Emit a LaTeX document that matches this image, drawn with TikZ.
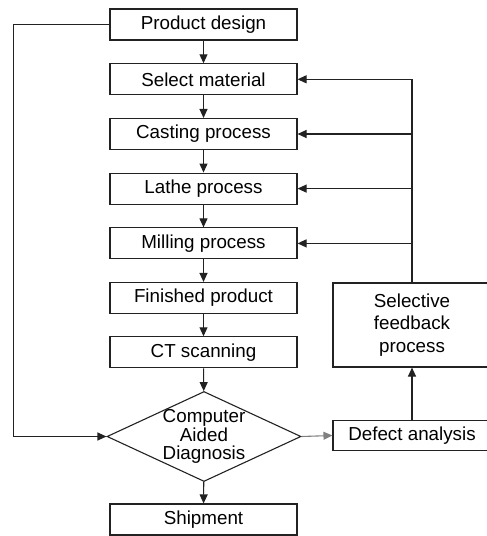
\documentclass[tikz,border=0pt]{standalone}
\usepackage{fontspec}
\setmainfont{Liberation Sans}
\usetikzlibrary{shapes.geometric,arrows.meta}
\definecolor{ln}{HTML}{222222}
\begin{document}
\begin{tikzpicture}[x=1pt,y=-1pt,
  every node/.style={font=\fontsize{18.8}{22.5}\selectfont, text=black},
  box/.style={draw=ln, line width=1.1pt, minimum width=187pt, minimum height=31pt, inner sep=0pt},
  sidebox/.style={draw=ln, line width=1.1pt, minimum width=158pt, inner sep=0pt, align=center},
  arr/.style={draw=ln, line width=1.1pt, -{Triangle[length=9pt,width=8pt]}},
  ln/.style={draw=ln, line width=1.1pt}]
\clip (0,0) rectangle (487,536);
\node[box] (pd) at (203.5,24.5) {Product design};
\node[box] (sm) at (203.5,79.3) {Select material};
\node[box] (cp) at (203.5,134) {Casting process};
\node[box] (lp) at (203.5,188.6) {Lathe process};
\node[box] (mp) at (203.5,243.4) {Milling process};
\node[box] (fp) at (203.5,298) {Finished product};
\node[box] (ct) at (203.5,352.3) {CT scanning};
\node[draw=ln, line width=1.1pt, diamond, minimum width=194pt, minimum height=90pt, inner sep=0pt,
  label={[align=center, font=\fontsize{18.8}{18.5}\selectfont]center:Computer\\Aided\\Diagnosis}] (cad) at (204,436.5) {};
\node[box] (sh) at (203.5,519.5) {Shipment};
\node[sidebox, minimum height=30pt] (da) at (412,435.5) {Defect analysis};
\node[sidebox, minimum height=84pt] (sf) at (412,325) {Selective\\feedback\\process};
\draw[arr] (pd) -- (sm);
\draw[arr] (sm) -- (cp);
\draw[arr] (cp) -- (lp);
\draw[arr] (lp) -- (mp);
\draw[arr] (mp) -- (fp);
\draw[arr] (fp) -- (ct);
\draw[arr] (ct) -- (cad);
\draw[arr] (cad) -- (sh);
\draw[arr] (pd.west) -- ++(-96,0) |- (cad.west);
\draw[arr, draw=gray] (cad.east) -- (da.west);
\draw[arr] (da) -- (sf);
\draw[ln] (sf.north) -- (sf.north |- sm.east);
\draw[arr] (sf.north |- sm.east) -- (sm.east);
\draw[arr] (sf.north |- cp.east) -- (cp.east);
\draw[arr] (sf.north |- lp.east) -- (lp.east);
\draw[arr] (sf.north |- mp.east) -- (mp.east);
\end{tikzpicture}
\end{document}
